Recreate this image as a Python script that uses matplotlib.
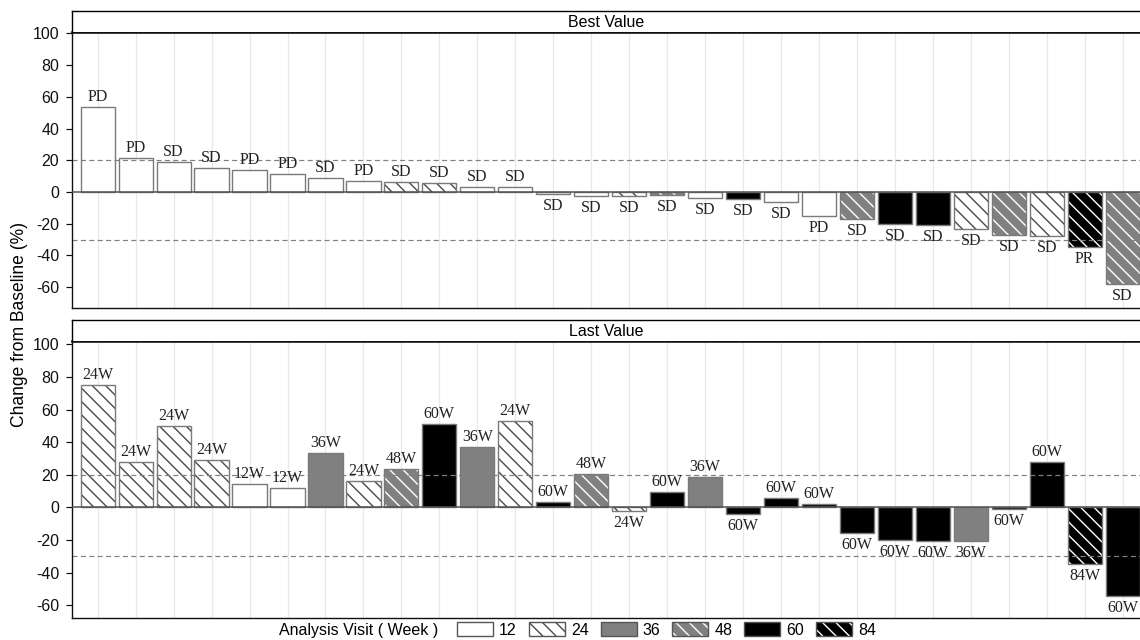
import numpy as np
import matplotlib
matplotlib.use("Agg")
import matplotlib.pyplot as plt
from matplotlib.patches import Patch

DPI = 120
W, H = 1140, 640


def P(px):
    return px * 72.0 / DPI


# ---------------- data ----------------
best_values = [53.3, 21.3, 19.0, 15.0, 13.9, 11.6, 9.0, 6.9, 6.5, 5.9, 3.4, 2.9,
               -1.1, -2.5, -2.5, -2.1, -3.8, -4.6, -6.3, -15.4, -17.3, -20.4,
               -20.8, -23.6, -27.0, -27.8, -34.7, -57.9]
best_visits = [12, 12, 12, 12, 12, 12, 12, 12, 24, 24, 12, 12, 12, 12, 24, 48,
               12, 60, 12, 12, 48, 60, 60, 24, 48, 24, 84, 48]
best_labels = ["PD", "PD", "SD", "SD", "PD", "PD", "SD", "PD", "SD", "SD", "SD",
               "SD", "SD", "SD", "SD", "SD", "SD", "SD", "SD", "PD", "SD", "SD",
               "SD", "SD", "SD", "SD", "PR", "SD"]

last_values = [75.0, 27.7, 49.7, 29.2, 14.4, 11.7, 33.5, 16.0, 23.2, 51.3, 37.3,
               53.2, 3.2, 20.5, -2.5, 9.2, 18.9, -4.1, 6.0, 1.8, -15.6, -19.9,
               -20.5, -20.5, -1.0, 27.5, -34.5, -54.2]
last_visits = [24, 24, 24, 24, 12, 12, 36, 24, 48, 60, 36, 24, 60, 48, 24, 60,
               36, 60, 60, 60, 60, 60, 60, 36, 60, 60, 84, 60]
last_labels = ["24W", "24W", "24W", "24W", "12W", "12W", "36W", "24W", "48W",
               "60W", "36W", "24W", "60W", "48W", "24W", "60W", "36W", "60W",
               "60W", "60W", "60W", "60W", "60W", "36W", "60W", "60W", "84W", "60W"]

visit_levels = [12, 24, 36, 48, 60, 84]
panel_titles = ["Best Value", "Last Value"]
ref_lines = [20, -30]
y_ticks = [-60, -40, -20, 0, 20, 40, 60, 80, 100]

# ---------------- styles ----------------
HATCH = "\\\\\\"
GREY = "#808080"
EDGE = "#7a7a7a"
styles = {
    12: dict(fc="white", hatch=None, hc="white"),
    24: dict(fc="white", hatch=HATCH, hc="#4a4a4a"),
    36: dict(fc=GREY, hatch=None, hc=GREY),
    48: dict(fc=GREY, hatch=HATCH, hc="white"),
    60: dict(fc="black", hatch=None, hc="black"),
    84: dict(fc="black", hatch=HATCH, hc="white"),
}

plt.rcParams["hatch.linewidth"] = P(1.4)
SANS = ["Liberation Sans", "DejaVu Sans"]
SERIF = ["Liberation Serif", "DejaVu Serif"]
FS = P(16)

fig = plt.figure(figsize=(W / DPI, H / DPI), dpi=DPI)

left_px = 71.7
xspacing = 37.96
first_center = 97.7
xlim = (-(first_center - left_px) / xspacing, 27 + (W - (first_center + 27 * xspacing)) / xspacing)

panels = [
    dict(values=best_values, visits=best_visits, labels=best_labels,
         top=31.7, bottom=307.7, htop=10.7, ylim=(-72.9, 101.0)),
    dict(values=last_values, visits=last_visits, labels=last_labels,
         top=340.7, bottom=617.7, htop=320.0, ylim=(-67.7, 102.2)),
]

BAR_W = 0.9
for p, title in zip(panels, panel_titles):
    x0 = left_px / W
    ax = fig.add_axes([x0, 1 - p["bottom"] / H, 1 - x0, (p["bottom"] - p["top"]) / H])
    hx = fig.add_axes([x0, 1 - p["top"] / H, 1 - x0, (p["top"] - p["htop"]) / H])

    vals = np.array(p["values"])
    vis = np.array(p["visits"])
    x = np.arange(len(vals))

    ax.set_axisbelow(True)
    for lvl in visit_levels:
        m = vis == lvl
        if not m.any():
            continue
        st = styles[lvl]
        ax.bar(x[m], vals[m], width=BAR_W, facecolor=st["fc"], edgecolor=st["hc"],
               hatch=st["hatch"], linewidth=0, zorder=2)
        ax.bar(x[m], vals[m], width=BAR_W, facecolor="none", edgecolor=EDGE,
               linewidth=P(1.4), zorder=3)

    for r in ref_lines:
        ax.axhline(r, color="#808080", lw=P(1.2), dashes=(4.2, 2.8), zorder=2.5)
    ax.axhline(0, color="#505050", lw=P(1.5), zorder=4)

    for xi, v, lab in zip(x, vals, p["labels"]):
        if v >= 0:
            ax.annotate(lab, (xi, v), xytext=(0, P(6)), textcoords="offset points",
                        ha="center", va="baseline", fontsize=FS, family=SERIF,
                        color="#222222", zorder=5)
        else:
            ax.annotate(lab, (xi, v), xytext=(0, -P(4)), textcoords="offset points",
                        ha="center", va="top", fontsize=FS, family=SERIF,
                        color="#222222", zorder=5)

    ax.set_xlim(*xlim)
    ax.set_ylim(*p["ylim"])
    ax.set_xticks(x)
    ax.grid(axis="x", color="#e8e8e8", lw=P(1.2))
    ax.tick_params(axis="x", length=0, labelbottom=False)
    ax.set_yticks(y_ticks)
    ax.set_yticklabels([str(t) for t in y_ticks], family=SANS, fontsize=FS)
    ax.tick_params(axis="y", length=P(6), width=P(1.2), pad=P(6.5), colors="#111111")
    ax.spines["right"].set_visible(False)
    ax.spines["left"].set_linewidth(P(1.4))
    ax.spines["bottom"].set_linewidth(P(1.4))
    ax.spines["top"].set_linewidth(P(2.6))
    for s in ["left", "bottom", "top"]:
        ax.spines[s].set_color("#111111")

    hx.set_xticks([])
    hx.set_yticks([])
    hx.spines["right"].set_visible(False)
    hx.spines["bottom"].set_visible(False)
    hx.spines["top"].set_linewidth(P(1.4))
    hx.spines["left"].set_linewidth(P(1.4))
    hx.text(0.5, 0.45, title, transform=hx.transAxes, ha="center", va="center",
            family=SANS, fontsize=FS)

fig.text(20 / W, 1 - 324 / H, "Change from Baseline (%)", rotation=90,
         ha="center", va="center", family=SANS, fontsize=P(17.5))

# legend
handles = []
for lvl in visit_levels:
    st = styles[lvl]
    h1 = Patch(facecolor=st["fc"], edgecolor=st["hc"], hatch=st["hatch"], linewidth=0)
    h2 = Patch(facecolor="none", edgecolor="#555555", linewidth=P(1.4))
    handles.append((h1, h2))
fig.text(279 / W, 1 - 630 / H, "Analysis Visit ( Week )", ha="left", va="center",
         family=SANS, fontsize=FS)
leg = fig.legend(handles, [str(v) for v in visit_levels], ncol=6, loc="center left",
                 bbox_to_anchor=(457 / W, 1 - 630 / H), frameon=False,
                 handlelength=2.25, handleheight=0.95, handletextpad=0.38,
                 columnspacing=0.75, borderpad=0, borderaxespad=0,
                 prop=dict(family=SANS, size=FS))

fig.savefig("out.png", dpi=DPI)
